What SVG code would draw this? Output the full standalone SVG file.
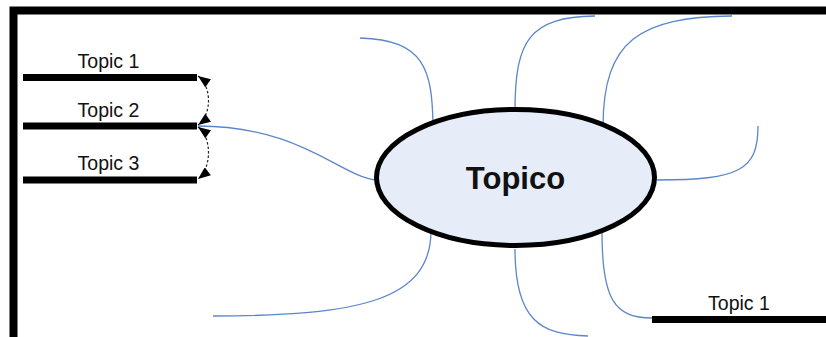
<svg xmlns="http://www.w3.org/2000/svg" width="826" height="337" viewBox="0 0 826 337">
<style>
.frame{stroke:#000;stroke-width:8;fill:none}
.bar{stroke:#000;stroke-width:7;fill:none}
.lbl{font-family:"Liberation Sans",Arial,sans-serif;font-size:19.5px;fill:#111;text-anchor:middle}
.branch{stroke:#5b86c9;stroke-width:1.3;fill:none}
.dash{stroke:#222;stroke-width:1.2;stroke-dasharray:2.5 2;fill:none}
.center{fill:#e6edf8;stroke:#000;stroke-width:5}
.ctext{font-family:"Liberation Sans",Arial,sans-serif;font-size:31px;font-weight:bold;fill:#111;text-anchor:middle}
</style>
<defs>
<marker id="ah" viewBox="0 0 10 8" refX="10" refY="4" markerWidth="13" markerHeight="10" markerUnits="userSpaceOnUse" orient="auto-start-reverse">
<path d="M0,0 L10,4 L0,8 z" fill="#000"/>
</marker>
</defs>
<rect width="826" height="337" fill="#fff"/>
<g id="frame">
<path class="frame" d="M13.5,337 V10.5 H826"/>
</g>
<g id="connectors">
<path class="branch" d="M198,126 C300,126 340,176 376,180"/>
<path class="branch" d="M360,38 C425,40 432,70 433,125"/>
<path class="branch" d="M515,110 C515,40 530,17 595,16"/>
<path class="branch" d="M603,127 C603,40 640,17 732,16"/>
<path class="branch" d="M657,180 C740,180 758,170 758,126"/>
<path class="branch" d="M431,232 C430,300 360,316 213,316"/>
<path class="branch" d="M515,249 C515,320 540,335 588,336"/>
<path class="branch" d="M602,233 C602,300 615,318 652,318"/>
<path class="dash" d="M198,76 C212,86 212,115 198,125" marker-start="url(#ah)" marker-end="url(#ah)"/>
<path class="dash" d="M198,127 C212,137 212,168 198,179" marker-start="url(#ah)" marker-end="url(#ah)"/>
</g>
<g id="topic1-left">
<line class="bar" x1="23" y1="77.5" x2="197" y2="77.5"/>
<text class="lbl" x="108.5" y="68">Topic 1</text>
</g>
<g id="topic2-left">
<line class="bar" x1="23" y1="126" x2="197" y2="126"/>
<text class="lbl" x="108.5" y="117">Topic 2</text>
</g>
<g id="topic3-left">
<line class="bar" x1="23" y1="180" x2="197" y2="180"/>
<text class="lbl" x="108.5" y="170">Topic 3</text>
</g>
<g id="topico">
<ellipse class="center" cx="515.5" cy="177.5" rx="139" ry="68"/>
<text class="ctext" x="515.5" y="189">Topico</text>
</g>
<g id="topic1-right">
<line class="bar" x1="652" y1="319.5" x2="826" y2="319.5"/>
<text class="lbl" x="739" y="310">Topic 1</text>
</g>
</svg>
